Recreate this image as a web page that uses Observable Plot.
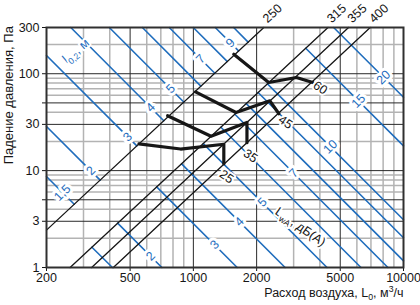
<!DOCTYPE html>
<html><head><meta charset="utf-8">
<script src="https://cdn.jsdelivr.net/npm/d3@7"></script>
<script src="https://cdn.jsdelivr.net/npm/@observablehq/plot@0.6"></script>
<style>
html,body{margin:0;padding:0;background:#fff;}
#chart svg{display:block;}
</style></head>
<body><div id="chart"></div>
<script>
// ---- axis / grid values ----
const xTicks = [200, 500, 1000, 2000, 5000, 10000];
const yTicks = [1, 3, 5, 10, 30, 50, 100, 300];
const gridMajorX = [500, 1000, 2000, 5000];
const gridMinorX = [300, 400, 600, 700, 800, 900, 3000, 4000, 6000, 7000, 8000, 9000];
const gridMajorY = [3, 5, 10, 30, 50, 100];
const gridMinorY = [2, 4, 6, 7, 8, 9, 20, 40, 60, 70, 80, 90, 200];

// ---- duct size lines (flow m3/h, pressure Pa) ----
const ductSizes = ["250", "315", "355", "400"];
const ductStart = [[200, 2.43], [259, 1], [328, 1], [416, 1]];
const ductEnd = [[2164, 300], [4372, 300], [5477, 300], [6945, 300]];

// ---- throw l0,2 lines, family left of the 250 line ----
const throwLeftL = ["1,5", "2", "3", "4", "5", "6", "7", "8", "9", "10"];
const throwLeftStart = [[200, 8.69], [200, 28.5], [200, 154], [261, 300], [398, 300], [572, 300], [768, 300], [999, 300], [1271, 300], [1555, 300]];
const throwLeftEnd = [[271, 4.50], [360, 7.98], [538, 18.0], [723, 32.7], [900, 51.0], [1085, 74.5], [1265, 101], [1448, 134], [1641, 172], [1822, 212]];
const throwLeftLabels = ["1,5", "2", "3", "4", "5", "7", "9"];
const throwLeftLabelPos = [[238, 5.9], [325, 9.95], [487, 22.3], [626, 44.8], [779, 69.9], [1082, 142], [1501, 208]];

// ---- throw l0,2 lines, family right of the 315 line ----
const throwRightL = ["1,5", "2", "3", "4", "5", "6", "7", "8", "9", "10", "15", "20"];
const throwRightStart = [[329, 1.62], [436, 2.87], [669, 6.79], [879, 11.75], [1114, 19.0], [1352, 28.0], [1576, 38.2], [1785, 49.1], [2033, 64.0], [2252, 78.6], [3426, 183], [4650, 300]];
const throwRightEnd = [[412, 1], [708, 1], [1616, 1], [2732, 1], [4325, 1], [6274, 1], [8428, 1], [10000, 1.17], [10000, 2.03], [10000, 3.11], [10000, 18.0], [10000, 57.2]];
const throwRightLabels = ["2", "3", "4", "5", "7", "10", "15", "20"];
const throwRightLabelPos = [[626, 1.31], [1261, 1.72], [1657, 2.96], [2132, 4.71], [3002, 9.42], [4484, 17.6], [6110, 52.2], [8034, 91.4]];

// ---- sound power level curves L_wA, dB(A) ----
const noiseLevels = ["25", "35", "45", "60"];
const noise25 = [[551, 18.9], [869, 16.7], [1396, 18.7], [1396, 11.75]];
const noise35 = [[754, 36.8], [1213, 22.6], [1799, 31.4], [1799, 19.4]];
const noise45 = [[1024, 65.0], [1595, 39.8], [2313, 52.5], [2553, 38.6]];
const noise60 = [[1557, 159], [2283, 81.1], [3092, 91.4], [3703, 81.1]];
const noiseLabelPos = [[1437, 8.63], [1869, 14.2], [2742, 31.5], [4020, 71.5]];

// ---- texts ----
const yTitle = "Падение давления, Па";
const yTitlePos = [133, 60];
const xTitle = "Расход воздуха, L0, м3/ч";
const throwTitle = "l0,2, м";
const throwTitlePos = [276, 172];
const noiseTitle = "LwA, дБ(A)";
const noiseTitlePos = [3230, 2.63];

// ---- build tables ----
const pairRows = (ids, s, e) => ids.flatMap((id, i) => [
  {x: s[i][0], y: s[i][1], id}, {x: e[i][0], y: e[i][1], id}]);
const labelRows = (texts, pos) => texts.map((t, i) => ({x: pos[i][0], y: pos[i][1], t}));
const noiseSeries = [noise25, noise35, noise45, noise60];
const noiseRows = noiseLevels.flatMap((id, i) => noiseSeries[i].map(([x, y]) => ({x, y, id})));

const blue = "#1f6dbd";
const ink = "#161616";
const FONT = "'Liberation Sans', Arial, sans-serif";

const plot = Plot.plot({
  width: 420, height: 305,
  marginLeft: 46, marginRight: 17, marginTop: 27, marginBottom: 38,
  style: {fontFamily: FONT, fontSize: "12.5px", color: ink, background: "#fff", overflow: "visible"},
  x: {type: "log", domain: [200, 10000], ticks: xTicks, tickFormat: d => String(d), tickSize: 4, tickPadding: 2, label: null},
  y: {type: "log", domain: [1, 300], ticks: yTicks, tickFormat: d => String(d), tickSize: 4, tickPadding: 3, label: null},
  marks: [
    Plot.ruleX(gridMinorX, {stroke: "#b3b3b3", strokeWidth: 1.5}),
    Plot.ruleY(gridMinorY, {stroke: "#b3b3b3", strokeWidth: 1.5}),
    Plot.ruleX(gridMajorX, {stroke: "#2a2a2a", strokeWidth: 1}),
    Plot.ruleY(gridMajorY, {stroke: "#2a2a2a", strokeWidth: 1}),
    Plot.line(pairRows(throwLeftL, throwLeftStart, throwLeftEnd), {x: "x", y: "y", z: "id", stroke: blue, strokeWidth: 1.6}),
    Plot.line(pairRows(throwRightL, throwRightStart, throwRightEnd), {x: "x", y: "y", z: "id", stroke: blue, strokeWidth: 1.6}),
    Plot.line(pairRows(ductSizes, ductStart, ductEnd), {x: "x", y: "y", z: "id", stroke: ink, strokeWidth: 1.3}),
    Plot.line(noiseRows, {x: "x", y: "y", z: "id", stroke: ink, strokeWidth: 3.2, strokeLinejoin: "round"}),
    Plot.text(labelRows(throwLeftLabels, throwLeftLabelPos), {x: "x", y: "y", text: "t", fill: blue, stroke: "white", strokeWidth: 6, rotate: -45, fontSize: 12.5}),
    Plot.text(labelRows(throwRightLabels, throwRightLabelPos), {x: "x", y: "y", text: "t", fill: blue, stroke: "white", strokeWidth: 6, rotate: -45, fontSize: 12.5}),
    Plot.text([throwTitle], {x: throwTitlePos[0], y: throwTitlePos[1], text: d => d, fill: blue, stroke: "white", strokeWidth: 4, rotate: -40, fontSize: 12.5}),
    Plot.text(labelRows(noiseLevels, noiseLabelPos), {x: "x", y: "y", text: "t", fill: ink, stroke: "white", strokeWidth: 4, rotate: 35, fontSize: 12.5}),
    Plot.text([noiseTitle], {x: noiseTitlePos[0], y: noiseTitlePos[1], text: d => d, fill: ink, stroke: "white", strokeWidth: 4, rotate: 35, fontSize: 12.5}),
    Plot.text(labelRows(ductSizes, ductEnd), {x: "x", y: "y", text: "t", fill: ink, rotate: -43, textAnchor: "start", dx: 1, dy: -7, fontSize: 12.5}),
    Plot.frame({stroke: "#303030", strokeWidth: 2}),
    Plot.text([yTitle], {x: yTitlePos[0], y: yTitlePos[1], rotate: -90, text: d => d, fill: ink, fontSize: 13}),
    Plot.text([xTitle], {frameAnchor: "bottom-right", dy: 29, textAnchor: "end", text: d => d, fill: ink, fontSize: 12.5})
  ]
});

// rich text: subscripts / superscripts
function richText(svg, plain, parts) {
  d3.select(svg).selectAll("text").filter(function () { return this.textContent === plain; }).each(function () {
    const t = d3.select(this);
    t.text(null);
    let shift = 0;
    parts.forEach(([s, k]) => {
      const target = k === 1 ? 3.5 : k === -1 ? -4.5 : 0;
      const sp = t.append("tspan").attr("dy", target - shift).text(s);
      if (k) sp.attr("font-size", "0.7em");
      shift = target;
    });
  });
}
richText(plot, xTitle, [["Расход воздуха, L", 0], ["0", 1], [", м", 0], ["3", -1], ["/ч", 0]]);
richText(plot, throwTitle, [["l", 0], ["0,2", 1], [", м", 0]]);
richText(plot, noiseTitle, [["L", 0], ["wA", 1], [", дБ(A)", 0]]);

document.getElementById("chart").appendChild(plot);
</script>
</body></html>
